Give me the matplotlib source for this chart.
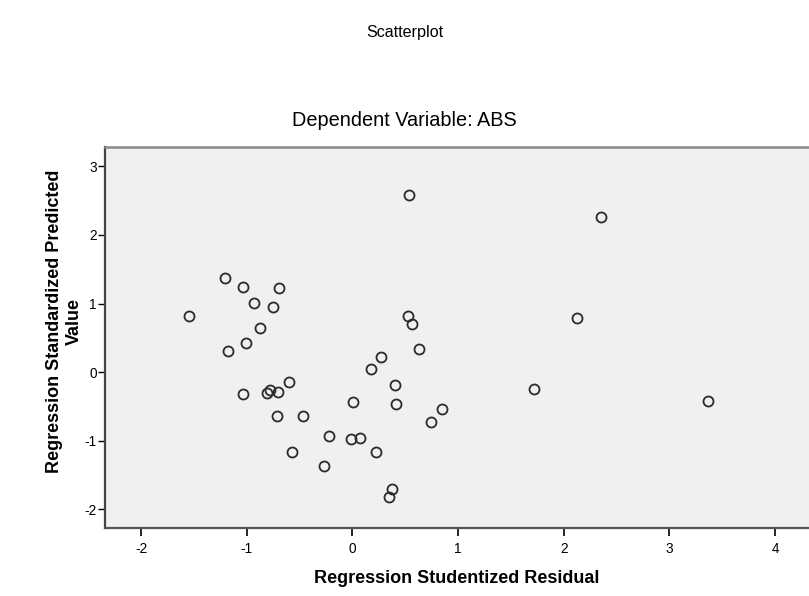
import matplotlib
matplotlib.use("Agg")
import matplotlib.pyplot as plt

plt.rcParams["font.family"] = ["Liberation Sans", "DejaVu Sans"]
plt.rcParams["axes.unicode_minus"] = False

# studentized residuals (x) and standardized predicted values (y)
resid = [-1.208, -1.034, -0.694, -0.934, -0.750, -1.545, -0.870, -1.009,
         -1.176, -0.599, -1.034, -0.807, -0.776, -0.706, -0.709, -0.470,
         0.003, -0.218, -0.013, 0.076, -0.568, 0.227, -0.271, 0.375,
         0.350, 0.400, 0.416, 0.744, 0.845, 0.177, 0.274, 0.536,
         2.353, 0.523, 0.563, 2.122, 0.626, 1.716, 3.368]
pred = [1.366, 1.234, 1.229, 1.006, 0.952, 0.816, 0.637, 0.418,
        0.311, -0.150, -0.311, -0.301, -0.253, -0.287, -0.632, -0.632,
        -0.432, -0.923, -0.977, -0.957, -1.157, -1.166, -1.361, -1.706,
        -1.822, -0.180, -0.462, -0.719, -0.530, 0.039, 0.214, 2.575,
        2.259, 0.811, 0.706, 0.792, 0.338, -0.240, -0.418]

x_ticks = [-2, -1, 0, 1, 2, 3, 4]
y_ticks = [-2, -1, 0, 1, 2, 3]

fig = plt.figure(figsize=(8.09, 5.96), dpi=100)
ax = fig.add_axes([0.1298, 0.1141, 0.8702, 0.6393])
ax.set_facecolor("#f0f0f0")

ax.plot(resid, pred, linestyle="none", marker="o", markersize=7.2,
        markerfacecolor="none", markeredgecolor="#2b2b2b", markeredgewidth=1.3)

ax.set_xlim(-2.34, 4.32)
ax.set_ylim(-2.27, 3.28)
ax.set_xticks(x_ticks)
ax.set_yticks(y_ticks)
ax.tick_params(axis="x", direction="out", length=6, width=1.2, labelsize=9.8, pad=4)
ax.tick_params(axis="y", direction="out", length=5, width=1.0, labelsize=9.8, pad=1)

ax.spines["right"].set_visible(False)
ax.spines["top"].set_color("#8a8a8a")
ax.spines["top"].set_linewidth(1.8)
ax.spines["left"].set_color("#444444")
ax.spines["left"].set_linewidth(1.6)
ax.spines["bottom"].set_color("#555555")
ax.spines["bottom"].set_linewidth(1.6)

ax.set_xlabel("Regression Studentized Residual", fontsize=13.0,
              fontweight="bold", labelpad=10)
ax.set_ylabel("Regression Standardized Predicted\nValue", fontsize=13,
              fontweight="bold", linespacing=1.25)
ax.yaxis.set_label_coords(-0.031, 0.543)

fig.text(0.5, 0.945, "Scatterplot", ha="center", va="center", fontsize=11.6)
fig.text(0.5, 0.797, "Dependent Variable: ABS", ha="center", va="center",
         fontsize=14.3)

plt.savefig("out.png", dpi=100)
plt.close()
